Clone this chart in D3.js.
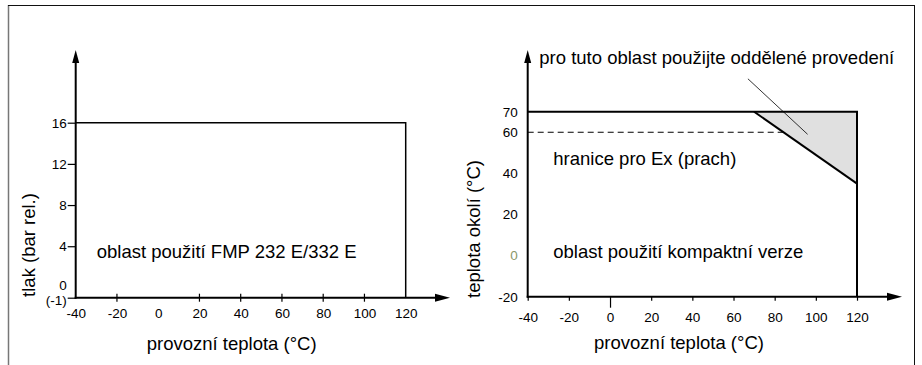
<!DOCTYPE html>
<html>
<head>
<meta charset="utf-8">
<script src="https://cdn.jsdelivr.net/npm/d3@7"></script>
<style>
  html, body { margin: 0; padding: 0; background: #fff; }
  svg { display: block; font-family: "Liberation Sans", Arial, sans-serif; }
</style>
</head>
<body>
<div id="chart"></div>
<script>
// x axis (operating temperature, °C) shared by both panels
const tempTicks = [-40, -20, 0, 20, 40, 60, 80, 100, 120];
const leftCrossTicks = [-20, 20, 40, 60, 80, 100];

// left panel: pressure (bar rel.)
const pressTicks = [16, 12, 8, 4, 0, -1];
const pressLabels = ['16', '12', '8', '4', '0', '(-1)'];
const pressEnvelope = [[-40, 16], [120, 16], [120, -1]];

// right panel: ambient temperature (°C)
const ambTicks = [70, 60, 40, 20, 0, -20];
const ambEnvelope = [[-40, 70], [120, 70], [120, -20]];
const separateRegion = [[70, 70], [120, 70], [120, 35]];
const exLimit = [[-40, 60], [84.3, 60]];
const leaderLine = [[67, 86], [96, 59]];

const width = 922;
const height = 365;
const fmt = d => String(d); // plain hyphen, not unicode minus
const labelSize = 18.5;

const svg = d3.select('#chart')
  .append('svg')
  .attr('width', width)
  .attr('height', height);

// outer frame
svg.append('line').attr('x1', 8.5).attr('y1', 5).attr('x2', 8.5).attr('y2', height)
  .attr('stroke', '#777').attr('stroke-width', 1.5);
svg.append('line').attr('x1', 8).attr('y1', 5.5).attr('x2', 915).attr('y2', 5.5)
  .attr('stroke', '#111').attr('stroke-width', 1.2);
svg.append('line').attr('x1', 914.5).attr('y1', 5).attr('x2', 914.5).attr('y2', height)
  .attr('stroke', '#111').attr('stroke-width', 1);

function arrowUp (x, y) {
  svg.append('path')
    .attr('d', `M${x},${y} L${x - 3.5},${y + 13} L${x + 3.5},${y + 13} Z`)
    .attr('fill', '#000');
}
function arrowRight (x, y) {
  svg.append('path')
    .attr('d', `M${x},${y} L${x - 15},${y - 4} L${x - 15},${y + 4} Z`)
    .attr('fill', '#000');
}

// ---------- left panel ----------
const xL = d3.scaleLinear().domain([-40, 120]).range([75.7, 405.7]);
const yL = d3.scaleLinear().domain([-1, 16]).range([297.7, 122.7]);
const lineL = d3.line().x(d => xL(d[0])).y(d => yL(d[1]));

const gL = svg.append('g');

gL.append('path')
  .datum(pressEnvelope)
  .attr('d', lineL)
  .attr('fill', 'none')
  .attr('stroke', '#000')
  .attr('stroke-width', 1.5);

// x axis labels
const axL = gL.append('g')
  .attr('transform', `translate(0,${yL(-1)})`)
  .call(d3.axisBottom(xL).tickValues(tempTicks).tickSize(0).tickPadding(11).tickFormat(fmt));
axL.select('.domain').remove();
axL.selectAll('text').attr('font-size', 13.5).attr('font-family', null).attr('fill', '#000');

// crossing ticks
gL.selectAll('.xtick')
  .data(leftCrossTicks)
  .join('line')
  .attr('x1', d => xL(d)).attr('x2', d => xL(d))
  .attr('y1', yL(-1) - 4).attr('y2', yL(-1) + 4)
  .attr('stroke', '#000').attr('stroke-width', 1.2);

// y axis
const ayL = gL.append('g')
  .attr('transform', `translate(${xL(-40)},0)`)
  .call(d3.axisLeft(yL).tickValues(pressTicks).tickSize(8).tickPadding(1)
    .tickFormat((d, i) => pressLabels[i]));
ayL.select('.domain').remove();
ayL.selectAll('line').attr('stroke', '#000').attr('stroke-width', 1.2);
ayL.selectAll('.tick').filter(d => d === 0).select('line').remove();
ayL.selectAll('.tick').filter(d => d === 0).attr('transform', `translate(0,${yL(0) - 2})`);
ayL.selectAll('.tick').filter(d => d === -1).select('text').attr('dy', '0.5em');
ayL.selectAll('text').attr('font-size', 13.5).attr('font-family', null).attr('fill', '#000');

// axis lines with arrows
gL.append('line').attr('x1', xL(-40)).attr('y1', yL(-1) + 1).attr('x2', xL(-40)).attr('y2', 60)
  .attr('stroke', '#000').attr('stroke-width', 2);
arrowUp(xL(-40), 50);
gL.append('line').attr('x1', xL(-40) - 1).attr('y1', yL(-1)).attr('x2', 440).attr('y2', yL(-1))
  .attr('stroke', '#000').attr('stroke-width', 2);
arrowRight(450, yL(-1));

gL.append('text')
  .attr('x', 96.7).attr('y', 258)
  .attr('font-size', labelSize)
  .text('oblast použití FMP 232 E/332 E');

gL.append('text')
  .attr('x', 231.7).attr('y', 349.5)
  .attr('text-anchor', 'middle')
  .attr('font-size', labelSize)
  .text('provozní teplota (°C)');

gL.append('text')
  .attr('transform', 'translate(35,245) rotate(-90)')
  .attr('text-anchor', 'middle')
  .attr('font-size', labelSize)
  .text('tlak (bar rel.)');

// ---------- right panel ----------
const xR = d3.scaleLinear().domain([-40, 120]).range([527.7, 857]);
const yR = d3.scaleLinear().domain([-20, 70]).range([296.7, 111.7]);
const lineR = d3.line().x(d => xR(d[0])).y(d => yR(d[1]));
const areaR = d3.line().x(d => xR(d[0])).y(d => yR(d[1])).curve(d3.curveLinearClosed);

const gR = svg.append('g');

gR.append('path')
  .datum(separateRegion)
  .attr('d', areaR)
  .attr('fill', '#e0e0e0')
  .attr('stroke', 'none');

gR.append('path')
  .datum(exLimit)
  .attr('d', lineR)
  .attr('fill', 'none')
  .attr('stroke', '#000')
  .attr('stroke-width', 1)
  .attr('stroke-dasharray', '6,4');

gR.append('path')
  .datum(ambEnvelope)
  .attr('d', lineR)
  .attr('fill', 'none')
  .attr('stroke', '#000')
  .attr('stroke-width', 2);

gR.append('path')
  .datum([separateRegion[0], separateRegion[2]])
  .attr('d', lineR)
  .attr('fill', 'none')
  .attr('stroke', '#000')
  .attr('stroke-width', 2);

// leader line from annotation into the shaded region
gR.append('path')
  .datum(leaderLine)
  .attr('d', lineR)
  .attr('fill', 'none')
  .attr('stroke', '#000')
  .attr('stroke-width', 0.8);

// x axis
const axR = gR.append('g')
  .attr('transform', `translate(0,${yR(-20)})`)
  .call(d3.axisBottom(xR).tickValues(tempTicks).tickSize(4).tickPadding(12).tickFormat(fmt));
axR.select('.domain').remove();
axR.selectAll('line').attr('stroke', '#000').attr('stroke-width', 1.2);
axR.selectAll('.tick').filter(d => d === 0).select('line').attr('y2', 11);
axR.selectAll('text').attr('font-size', 13.5).attr('font-family', null).attr('fill', '#000');

// y axis labels
const ayR = gR.append('g')
  .attr('transform', `translate(${xR(-40)},0)`)
  .call(d3.axisLeft(yR).tickValues(ambTicks).tickSize(0).tickPadding(10).tickFormat(fmt));
ayR.select('.domain').remove();
ayR.selectAll('text').attr('font-size', 13.5).attr('font-family', null)
  .attr('fill', d => d === 0 ? '#8a9868' : '#000');

gR.append('line').attr('x1', xR(-40)).attr('y1', yR(-20) + 1).attr('x2', xR(-40)).attr('y2', 60)
  .attr('stroke', '#000').attr('stroke-width', 2);
arrowUp(xR(-40), 50);
gR.append('line').attr('x1', xR(-40) - 1).attr('y1', yR(-20)).attr('x2', 892).attr('y2', yR(-20))
  .attr('stroke', '#000').attr('stroke-width', 2);
arrowRight(902, yR(-20));

gR.append('text')
  .attr('x', 539.3).attr('y', 64)
  .attr('font-size', labelSize)
  .text('pro tuto oblast použijte oddělené provedení');

gR.append('text')
  .attr('x', 553.3).attr('y', 165)
  .attr('font-size', labelSize)
  .text('hranice pro Ex (prach)');

gR.append('text')
  .attr('x', 553.3).attr('y', 258)
  .attr('font-size', labelSize)
  .text('oblast použití kompaktní verze');

gR.append('text')
  .attr('x', 679).attr('y', 348.5)
  .attr('text-anchor', 'middle')
  .attr('font-size', labelSize)
  .text('provozní teplota (°C)');

gR.append('text')
  .attr('transform', 'translate(480,229) rotate(-90)')
  .attr('text-anchor', 'middle')
  .attr('font-size', labelSize)
  .text('teplota okolí (°C)');
</script>
</body>
</html>
